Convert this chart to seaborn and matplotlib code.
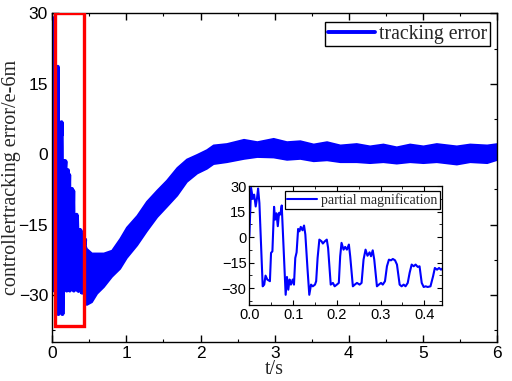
import matplotlib
matplotlib.use("Agg")
import numpy as np
import pandas as pd
import matplotlib.pyplot as plt
import seaborn as sns
from matplotlib.patches import Rectangle
from matplotlib.ticker import MultipleLocator

# ---------------- data ----------------
# detailed waveform of the first 0.44 s (shown in the inset and the main plot)
t_detail = [0.000, 0.004, 0.008, 0.011, 0.0145, 0.0176, 0.020, 0.023, 0.0305, 0.034, 0.037, 0.041, 0.047,
            0.0496, 0.0527, 0.0565, 0.059, 0.062, 0.065, 0.068, 0.071, 0.074, 0.076, 0.083, 0.086, 0.089,
            0.092, 0.095, 0.099, 0.102, 0.105, 0.108, 0.1115, 0.1145, 0.1175, 0.1215, 0.125, 0.128, 0.133,
            0.137, 0.141, 0.145, 0.150, 0.1527, 0.156, 0.160, 0.165, 0.168, 0.1725, 0.177, 0.180, 0.186,
            0.191, 0.195, 0.200, 0.2045, 0.2076, 0.2107, 0.2153, 0.219, 0.223, 0.2275, 0.2305, 0.2366,
            0.241, 0.246, 0.252, 0.2565, 0.261, 0.2656, 0.270, 0.2748, 0.278, 0.282, 0.2855, 0.2916, 0.296,
            0.301, 0.305, 0.310, 0.3145, 0.319, 0.3237, 0.328, 0.333, 0.3374, 0.3435, 0.348, 0.3527, 0.357,
            0.362, 0.3664, 0.371, 0.3756, 0.380, 0.385, 0.389, 0.394, 0.3985, 0.403, 0.4076, 0.414, 0.420,
            0.424, 0.429, 0.4336, 0.438, 0.443]
err_detail = [0.5, 29, 22.5, 25, 18, 23, 28.6, 20, -29, -28, -22.7, -25, -26,
              -9.3, -8.4, 17.8, 10.3, 14, 6.4, 14.3, 13.3, 18.6, 6.8, -34, -23.5, -31,
              -25, -28, -25, -28, -12.3, -9, 4.8, 3.4, 6, 4, 6.8, 1.5, -19,
              -34, -28, -29, -28, -26, -12.3, -1.5, -2.5, -3.8, -2.5, -1.5, -6.4, -28,
              -27, -29, -28, -27, -11.3, -3.4, -7.4, -5.8, -7.4, -4.4, -11.3, -29,
              -28, -27, -28, -27, -13.3, -7.4, -11, -9, -11.3, -7.8, -13.3, -29, -28,
              -27, -28, -26, -17.2, -13.3, -13.7, -12.9, -13.7, -16.2, -28, -29, -28, -29,
              -27, -21, -16.2, -17.2, -16.2, -17.6, -17.2, -27, -29.4, -29, -29.4, -29, -23,
              -18.2, -19.2, -18.2, -19.2, -18.2]

# envelope (upper / lower) of the fast oscillation after 0.44 s
t_env = [0.44, 0.46, 0.53, 0.60, 0.69, 0.80, 0.91, 1.00, 1.14, 1.27, 1.41, 1.54, 1.68, 1.81, 1.95,
         2.08, 2.17, 2.35, 2.58, 2.76, 2.98, 3.16, 3.34, 3.52, 3.70, 3.88, 4.10, 4.28, 4.46, 4.64,
         4.82, 5.00, 5.18, 5.45, 5.63, 5.86, 6.00]
env_upper = [-19, -20, -21, -21, -21, -20.4, -17.9, -15.5, -13, -10, -7.6, -5.5, -2.8, -1, 0,
             1, 2, 2.3, 3.2, 2.7, 3.4, 2.7, 2.9, 2.2, 2.7, 2, 2.3, 1.8, 2.2, 1.6,
             2.2, 1.8, 2.3, 1.8, 2.2, 2, 2.3]
env_lower = [-31, -32, -31.4, -29.6, -28.2, -26, -24.3, -22, -19.3, -16.3, -13.3, -11.1, -8.7, -5.8, -4,
             -3, -2, -1.6, -0.9, -0.5, -0.6, -1.1, -0.9, -1.4, -1.2, -1.6, -1.6, -1.8, -1.6, -1.9,
             -1.6, -1.8, -1.6, -2.1, -1.6, -1.8, -1.1]

x_ticks = [0, 1, 2, 3, 4, 5, 6]
y_ticks = [-30, -15, 0, 15, 30]
inset_x_ticks = [0.0, 0.1, 0.2, 0.3, 0.4]

# ---------------- style ----------------
sns.set_style("ticks")
plt.rcParams['font.family'] = ['Liberation Sans', 'DejaVu Sans']
plt.rcParams.update({
    'xtick.direction': 'in', 'ytick.direction': 'in',
    'xtick.top': True, 'ytick.right': True,
    'xtick.minor.visible': True, 'ytick.minor.visible': True,
    'axes.edgecolor': 'black', 'axes.linewidth': 1.0,
    'xtick.color': 'black', 'ytick.color': 'black',
})
serif = ['Liberation Serif', 'DejaVu Serif']
blue = '#0000ff'

df_detail = pd.DataFrame({'t': t_detail, 'err': err_detail})

fig = plt.figure(figsize=(5.12, 3.81), dpi=100)
ax = fig.add_axes([0.102, 0.102, 0.869, 0.863])

sns.lineplot(data=df_detail, x='t', y='err', ax=ax, color=blue, lw=3.0, legend=False)
ax.fill_between(t_env, env_lower, env_upper, color=blue, lw=1.2, edgecolor=blue)

ax.set_xlim(0, 6)
ax.set_ylim(-40, 30)
ax.set_xticks(x_ticks)
ax.set_yticks(y_ticks)
ax.xaxis.set_minor_locator(MultipleLocator(0.5))
ax.yaxis.set_minor_locator(MultipleLocator(7.5))
ax.tick_params(which='major', length=5, width=1, labelsize=12.5, pad=3)
ax.tick_params(which='minor', length=2.5, width=0.8)
ax.set_xlabel('t/s', fontfamily=serif, fontsize=14.5, labelpad=-1)
ax.set_ylabel('controllertracking error/e-6m', fontfamily=serif, fontsize=14.5, labelpad=-2)

leg_handle = plt.Line2D([], [], color=blue, lw=2.8)
leg = ax.legend([leg_handle], ['tracking error'], loc='upper right',
                bbox_to_anchor=(0.985, 0.975), prop={'family': serif, 'size': 14.2},
                frameon=True, fancybox=False, edgecolor='black', framealpha=1,
                handlelength=2.4, handletextpad=0.2, borderpad=0.15, borderaxespad=0)
leg.get_frame().set_linewidth(1.0)

ax.add_patch(Rectangle((0.035, -36.5), 0.40, 66.5, fill=False, edgecolor='#ff0000', lw=2.4, zorder=5))

# ---------------- inset ----------------
axi = fig.add_axes([0.487, 0.1995, 0.376, 0.312])
sns.lineplot(data=df_detail, x='t', y='err', ax=axi, color=blue, lw=1.5, legend=False)
axi.set_xlim(0, 0.44)
axi.set_ylim(-40, 30)
axi.set_xticks(inset_x_ticks)
axi.set_xticklabels(['0.0', '0.1', '0.2', '0.3', '0.4'])
axi.set_yticks(y_ticks)
axi.xaxis.set_minor_locator(MultipleLocator(0.05))
axi.yaxis.set_minor_locator(MultipleLocator(7.5))
axi.tick_params(which='major', length=3.5, width=0.8, labelsize=10.5, pad=2)
axi.tick_params(which='minor', length=2, width=0.6)
axi.set_xlabel('')
axi.set_ylabel('')
for s in axi.spines.values():
    s.set_linewidth(0.9)
ileg = axi.legend([plt.Line2D([], [], color=blue, lw=1.5)], ['partial magnification'],
                  loc='upper right', bbox_to_anchor=(0.99, 0.96),
                  prop={'family': serif, 'size': 10}, frameon=True, fancybox=False,
                  edgecolor='black', framealpha=1, handlelength=2.2, handletextpad=0.3,
                  borderpad=0.15, borderaxespad=0)
ileg.get_frame().set_linewidth(0.9)

fig.savefig('out.png', dpi=100)
